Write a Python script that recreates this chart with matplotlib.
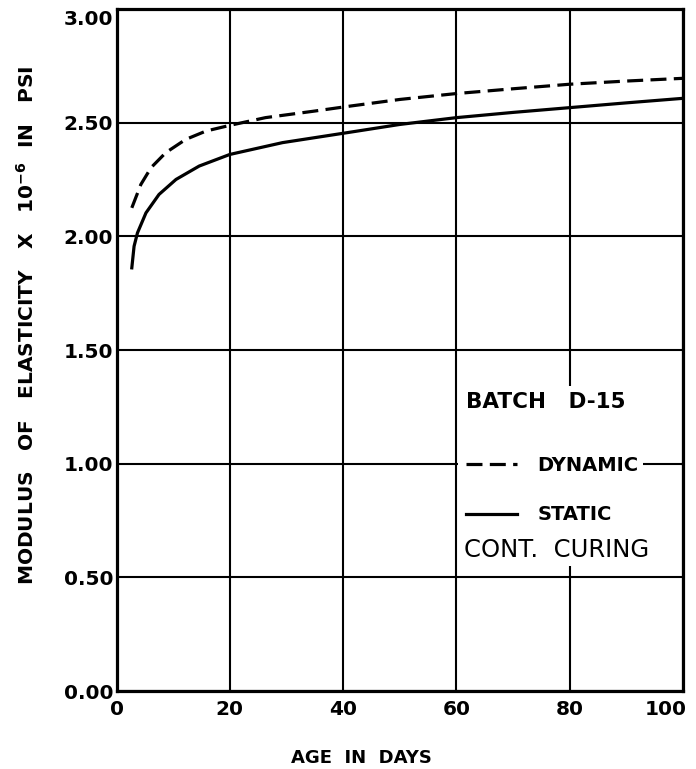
import matplotlib
matplotlib.use('Agg')
import matplotlib.pyplot as plt
from matplotlib.patches import Rectangle
from matplotlib.transforms import offset_copy

# values (age in days, modulus x 1e-6 psi)
days_dyn = [2.7, 4.3, 6.1, 8.7, 12.2, 15.8, 20, 26.3, 35, 41, 50, 60, 70, 80, 90, 100]
mod_dyn = [2.126, 2.229, 2.303, 2.369, 2.427, 2.464, 2.489, 2.523, 2.552, 2.573,
           2.603, 2.629, 2.650, 2.670, 2.684, 2.696]
days_sta = [2.7, 3.1, 3.7, 5.2, 7.5, 10.5, 14.6, 20, 29.3, 41, 50, 60, 70, 80, 90, 100]
mod_sta = [1.862, 1.957, 2.016, 2.104, 2.185, 2.251, 2.310, 2.361, 2.413, 2.458,
           2.493, 2.523, 2.546, 2.567, 2.588, 2.608]

xticks = [0, 20, 40, 60, 80, 100]
yticks = [0.0, 0.5, 1.0, 1.5, 2.0, 2.5, 3.0]
ytick_labels = ['0.00', '0.50', '1.00', '1.50', '2.00', '2.50', '3.00']

plt.rcParams['font.family'] = ['DejaVu Sans']

fig = plt.figure(figsize=(6.96, 7.69), dpi=100)
ax = fig.add_axes([0.1674, 0.1014, 0.814, 0.8866])

ax.set_xlim(0, 100)
ax.set_ylim(0, 3.0)
ax.set_xticks(xticks)
ax.set_yticks(yticks)
ax.set_yticklabels(ytick_labels)
ax.tick_params(length=0, labelsize=14.5)
ax.tick_params(axis='x', pad=6.5)
ax.tick_params(axis='y', pad=2.5)
for lab in ax.get_xticklabels() + ax.get_yticklabels():
	lab.set_fontweight('bold')

# the end labels sit inside the sheet on the original
fig.canvas.draw()
xl = ax.get_xticklabels()[-1]
xl.set_transform(offset_copy(xl.get_transform(), fig=fig, x=-17, y=0, units='dots'))
yl = ax.get_yticklabels()[-1]
yl.set_transform(offset_copy(yl.get_transform(), fig=fig, x=0, y=-8, units='dots'))

ax.set_axisbelow(True)
ax.grid(True, color='black', linewidth=1.5)
for sp in ax.spines.values():
	sp.set_linewidth(2.3)

l_dyn, = ax.plot(days_dyn, mod_dyn, color='black', linewidth=2.3, linestyle=(0, (5, 2.3)),
                 label='DYNAMIC', zorder=3)
l_sta, = ax.plot(days_sta, mod_sta, color='black', linewidth=2.3, label='STATIC', zorder=3)

# blank patch behind the key, as on the original sheet
ax.add_patch(Rectangle((60.3, 0.55), 39.4, 0.79, facecolor='white', edgecolor='none', zorder=1))
ax.hlines(1.0, 93, 100, color='black', linewidth=1.5, zorder=1.2)

ax.text(61.7, 1.27, 'BATCH   D-15', fontsize=15.5, fontweight='bold', ha='left', va='center', zorder=4)
leg = ax.legend(handles=[l_dyn, l_sta], loc='upper left', bbox_to_anchor=(61.7, 1.033),
                bbox_transform=ax.transData, frameon=False, borderpad=0, borderaxespad=0,
                handlelength=2.63, handletextpad=1.03, labelspacing=1.55,
                prop={'weight': 'bold', 'size': 14})
leg.set_zorder(4)
ax.text(61.3, 0.621, 'CONT.  CURING', fontsize=17.5, ha='left', va='center', zorder=4)

fig.text(27 / 696, 1 - 325 / 769, r'MODULUS   OF   ELASTICITY   X   10$^{\mathbf{-6}}$  IN   PSI',
         rotation=90, ha='center', va='center', fontsize=14.5, fontweight='bold')
fig.text(361 / 696, 1 - 758 / 769, 'AGE  IN  DAYS', ha='center', va='center',
         fontsize=13, fontweight='bold')

fig.savefig('out.png', dpi=100)
